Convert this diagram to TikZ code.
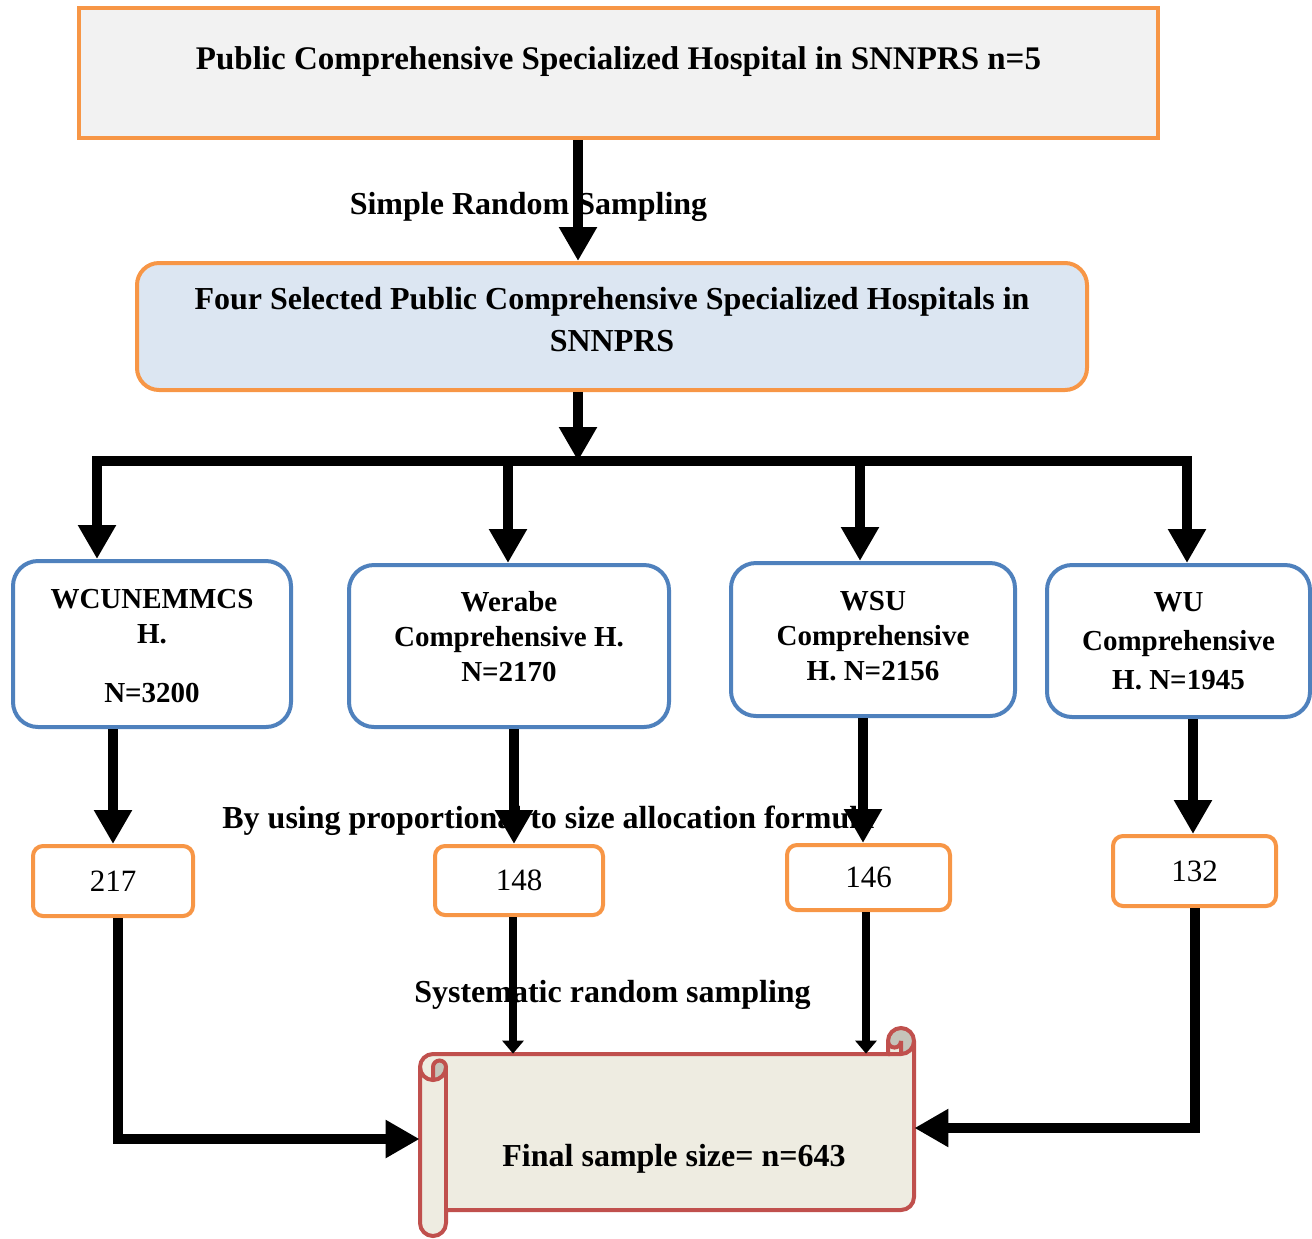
\documentclass[tikz,border=0pt]{standalone}
\usepackage{fontspec}
\setmainfont{Liberation Serif}
\usetikzlibrary{arrows.meta}
\definecolor{boxorange}{HTML}{F79646}
\definecolor{boxblue}{HTML}{4F81BD}
\definecolor{scrollred}{HTML}{C0504D}
\definecolor{topfill}{HTML}{F2F2F2}
\definecolor{fourfill}{HTML}{DCE6F2}
\definecolor{scrollfill}{HTML}{EEECE1}
\definecolor{curlfill}{HTML}{C5C4BA}

\begin{document}
\begin{tikzpicture}[
  x=0.5pt, y=-0.5pt,
  font=\bfseries\fontsize{16pt}{21pt}\selectfont,
  orangebox/.style={draw=boxorange, line width=2pt, align=center, inner sep=2pt},
  hospbox/.style={draw=boxblue, line width=2pt, rounded corners=12.5pt, fill=white},
  hosptext/.style={align=center, font=\bfseries\fontsize{14.5pt}{17.5pt}\selectfont},
  countbox/.style={draw=boxorange, line width=2pt, rounded corners=5pt, fill=white,
    font=\mdseries\fontsize{15.5pt}{18pt}\selectfont},
  fat/.style={line width=5pt, -{Triangle[width=18pt,length=17pt]}},
  slim/.style={line width=4pt, -{Triangle[width=10.5pt,length=6.5pt]}},
  scrollline/.style={draw=scrollred, line width=2pt}
]
\useasboundingbox (0,0) rectangle (1312,1238);

% --- top boxes ---
\node[orangebox, fill=topfill, minimum width=539.5pt, minimum height=65pt,
      font=\bfseries\fontsize{16.5pt}{21pt}\selectfont, text depth=14.5pt]
  (pub) at (618.5,73) {Public Comprehensive Specialized Hospital in SNNPRS n=5};
\node[orangebox, fill=fourfill, rounded corners=11pt, minimum width=475pt, minimum height=63.5pt,
      text depth=7pt]
  (four) at (612,326.5) {Four Selected Public Comprehensive Specialized Hospitals in\\SNNPRS};

% --- branch points on the bar ---
\coordinate (split) at (578,461);
\coordinate (d1) at (97,461);
\coordinate (d2) at (508,461);
\coordinate (d3) at (860,461);
\coordinate (d4) at (1187,461);

% --- hospitals ---
\node[hospbox, minimum width=139pt, minimum height=83pt,
      label={[hosptext, yshift=-1pt]center:WCUNEMMCS\\H.\\[12pt]N=3200}] (h1) at (152,644) {};
\node[hospbox, minimum width=160pt, minimum height=81pt,
      label={[hosptext, yshift=4.5pt]center:Werabe\\Comprehensive H.\\N=2170}] (h2) at (509,646) {};
\node[hospbox, minimum width=142pt, minimum height=76.5pt,
      label={[hosptext, yshift=1.5pt]center:WSU\\Comprehensive\\H. N=2156}] (h3) at (873,639.5) {};
\node[hospbox, minimum width=131.5pt, minimum height=76pt,
      label={[hosptext, font=\bfseries\fontsize{14.5pt}{19.5pt}\selectfont]center:WU\\Comprehensive\\H. N=1945}]
  (h4) at (1178.5,641) {};

% --- allocated sample per hospital ---
\node[countbox, minimum width=80pt, minimum height=35pt] (n217) at (113,881) {217};
\node[countbox, minimum width=84pt, minimum height=34.5pt] (n148) at (519,880.5) {148};
\node[countbox, minimum width=81.5pt, minimum height=32.5pt] (n146) at (868.5,877.5) {146};
\node[countbox, minimum width=81.5pt, minimum height=35pt] (n132) at (1194.5,871) {132};

% --- step labels (arrows go over them) ---
\node (srs) at (528.5,207) {Simple Random Sampling};
\node[anchor=west, inner sep=0pt] (pps) at (222,821) {By using proportional to size allocation formula};
\node (sys) at (612.5,995) {Systematic random sampling};

% --- final scroll ---
\node[minimum width=247pt, minimum height=78pt, inner sep=0pt] (final) at (667,1132) {};
\path[fill=scrollfill] (420,1067) arc[start angle=180, end angle=270, radius=13]
  -- (888,1054) -- (888,1041) arc[start angle=180, end angle=360, radius=13]
  -- (914,1197) arc[start angle=0, end angle=90, radius=13]
  -- (446,1210) -- (446,1223) arc[start angle=0, end angle=180, radius=13] -- cycle;
\path[fill=curlfill] (433,1080) arc[start angle=90, end angle=0, radius=13]
  arc[start angle=0, end angle=-180, radius=6.5] -- cycle;
\path[fill=curlfill] (901,1054) arc[start angle=90, end angle=-180, radius=13]
  arc[start angle=180, end angle=0, radius=6.5] -- cycle;
\draw[scrollline] (420,1067) arc[start angle=180, end angle=270, radius=13]
  -- (888,1054) -- (888,1041) arc[start angle=180, end angle=360, radius=13]
  -- (914,1197) arc[start angle=0, end angle=90, radius=13]
  -- (446,1210) -- (446,1223) arc[start angle=0, end angle=180, radius=13] -- cycle;
\draw[scrollline] (888,1054) -- (901,1054) arc[start angle=90, end angle=0, radius=13];
\draw[scrollline] (901,1054) -- (901,1041) arc[start angle=0, end angle=180, radius=6.5];
\draw[scrollline] (433,1080) -- (433,1067) arc[start angle=180, end angle=360, radius=6.5]
  arc[start angle=0, end angle=180, radius=13];
\draw[scrollline] (446,1067) -- (446,1210);
\node (finaltxt) at ([shift={(7,27)}]final.center) {Final sample size= n=643};

% --- connectors ---
\draw[fat] (pub.south -| split) -- (four.north -| split);
\draw[fat] (four.south -| split) -- (split);
\draw[line width=5pt, line cap=rect] (d1) -- (d4);
\draw[fat] (d1) -- (d1 |- h1.north);
\draw[fat] (d2) -- (d2 |- h2.north);
\draw[fat] (d3) -- (d3 |- h3.north);
\draw[fat] (d4) -- (d4 |- h4.north);
\draw[fat] (n217.north |- h1.south) -- (n217.north);
\draw[fat] ([xshift=-2.5pt]n148.north |- h2.south) -- ([xshift=-2.5pt]n148.north);
\draw[fat] ([xshift=-2.75pt]n146.north |- h3.south) -- ([xshift=-2.75pt]n146.north);
\draw[fat] ([xshift=-0.75pt]n132.north |- h4.south) -- ([xshift=-0.75pt]n132.north);
\draw[fat] ([xshift=2.5pt]n217.south) |- ([yshift=-3.5pt]final.west);
\draw[slim] ([xshift=-3pt]n148.south) -- ([xshift=-3pt]n148.south |- final.north);
\draw[slim] ([xshift=-1.25pt]n146.south) -- ([xshift=-1.25pt]n146.south |- final.north);
\draw[fat] (n132.south) |- ([yshift=2pt]final.east);
\end{tikzpicture}
\end{document}
